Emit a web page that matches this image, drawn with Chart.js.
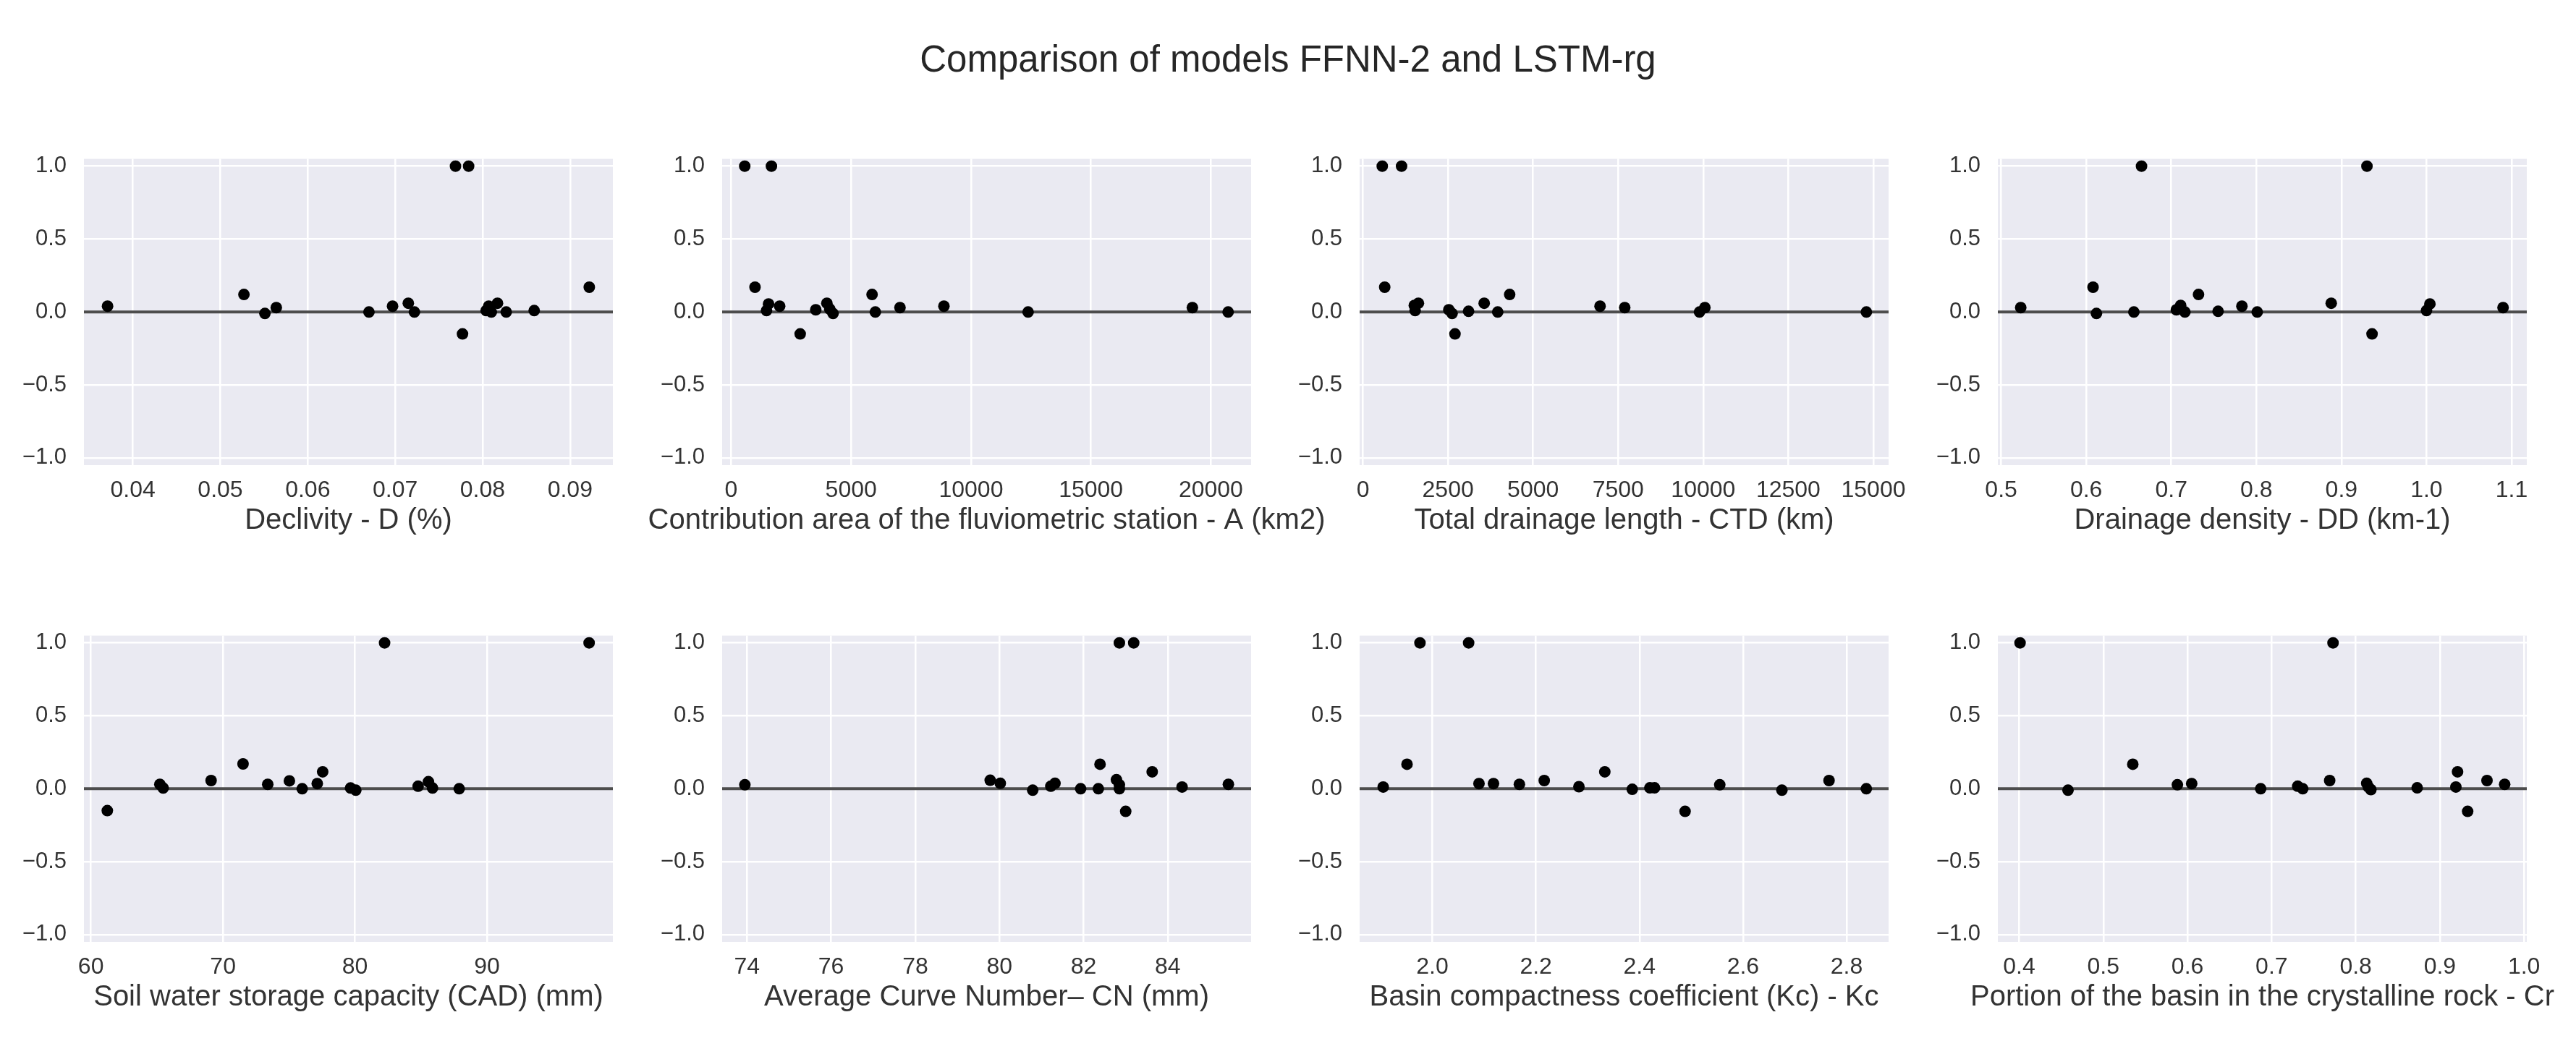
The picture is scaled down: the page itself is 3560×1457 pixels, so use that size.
<!DOCTYPE html>
<html>
<head>
<meta charset="utf-8">
<title>Comparison of models FFNN-2 and LSTM-rg</title>
<script src="https://cdn.jsdelivr.net/npm/chart.js@4.4.1/dist/chart.umd.min.js"></script>
<style>
  html, body { margin: 0; padding: 0; background: #fff; }
  body { width: 3560px; height: 1457px; position: relative; overflow: hidden; font-family: "Liberation Sans", Arial, sans-serif; }
  #title { position: absolute; left: 0; top: 52px; width: 3560px; text-align: center; font-size: 51px; line-height: 60px; color: #262626; }
  canvas { position: absolute; }
</style>
</head>
<body>
<div id="title">Comparison of models FFNN-2 and LSTM-rg</div>
<script>
// values, one pair of arrays per panel
const declivityX = [0.0371, 0.0527, 0.0551, 0.0564, 0.0670, 0.0697, 0.0715, 0.0722, 0.0769, 0.0784, 0.0777, 0.0804, 0.0807, 0.0810, 0.0817, 0.0827, 0.0859, 0.0922];
const declivityY = [0.04, 0.12, -0.01, 0.03, 0.0, 0.04, 0.06, 0.0, 1.0, 1.0, -0.15, 0.01, 0.04, 0.0, 0.06, 0.0, 0.01, 0.17];

const areaX = [565, 1678, 993, 1473, 1558, 2021, 2877, 3527, 3990, 4110, 4247, 5874, 6010, 7038, 8870, 12380, 19230, 20720];
const areaY = [1.0, 1.0, 0.17, 0.01, 0.055, 0.04, -0.15, 0.015, 0.06, 0.02, -0.01, 0.12, 0.0, 0.03, 0.04, 0.0, 0.03, 0.0];

const lengthX = [568, 1135, 640, 1510, 1534, 1630, 2524, 2620, 2705, 3104, 3563, 3961, 4312, 6968, 7693, 9891, 10048, 14795];
const lengthY = [1.0, 1.0, 0.17, 0.045, 0.01, 0.06, 0.015, -0.01, -0.15, 0.005, 0.06, 0.0, 0.12, 0.04, 0.03, 0.0, 0.03, 0.0];

const densityX = [0.523, 0.608, 0.612, 0.656, 0.665, 0.706, 0.711, 0.716, 0.732, 0.755, 0.783, 0.801, 0.888, 0.930, 0.936, 1.000, 1.004, 1.090];
const densityY = [0.03, 0.17, -0.01, 0.0, 1.0, 0.015, 0.045, 0.0, 0.12, 0.005, 0.04, 0.0, 0.06, 1.0, -0.15, 0.01, 0.055, 0.03];

const cadX = [61.24, 65.22, 65.47, 69.1, 71.52, 73.39, 75.03, 76.0, 77.14, 77.55, 79.66, 80.06, 82.24, 84.78, 85.56, 85.87, 87.89, 97.73];
const cadY = [-0.15, 0.03, 0.005, 0.056, 0.17, 0.03, 0.054, 0.0, 0.035, 0.116, 0.005, -0.01, 1.0, 0.017, 0.048, 0.005, 0.0, 1.0];

const cnX = [73.95, 79.78, 80.02, 80.79, 81.22, 81.32, 81.93, 82.35, 82.39, 82.78, 82.85, 82.85, 82.85, 83.19, 83.0, 83.63, 84.34, 85.44];
const cnY = [0.027, 0.058, 0.037, -0.01, 0.017, 0.037, 0.0, 0.0, 0.168, 0.062, 0.027, 0.0, 1.0, 1.0, -0.155, 0.116, 0.012, 0.03];

const kcX = [1.905, 1.951, 1.976, 2.070, 2.090, 2.118, 2.168, 2.216, 2.283, 2.333, 2.386, 2.420, 2.429, 2.488, 2.555, 2.675, 2.766, 2.838];
const kcY = [0.012, 0.168, 1.0, 1.0, 0.035, 0.035, 0.03, 0.056, 0.014, 0.116, -0.004, 0.006, 0.006, -0.155, 0.027, -0.01, 0.056, 0.0];

const crX = [0.401, 0.458, 0.535, 0.588, 0.605, 0.687, 0.731, 0.737, 0.769, 0.773, 0.813, 0.815, 0.818, 0.873, 0.919, 0.921, 0.933, 0.956, 0.977];
const crY = [1.0, -0.01, 0.168, 0.027, 0.035, 0.0, 0.017, 0.0, 0.056, 1.0, 0.037, 0.012, -0.006, 0.006, 0.012, 0.116, -0.155, 0.056, 0.03];

// tick labels
const declivityTicks = ['0.04', '0.05', '0.06', '0.07', '0.08', '0.09'];
const areaTicks = ['0', '5000', '10000', '15000', '20000'];
const lengthTicks = ['0', '2500', '5000', '7500', '10000', '12500', '15000'];
const densityTicks = ['0.5', '0.6', '0.7', '0.8', '0.9', '1.0', '1.1'];
const cadTicks = ['60', '70', '80', '90'];
const cnTicks = ['74', '76', '78', '80', '82', '84'];
const kcTicks = ['2.0', '2.2', '2.4', '2.6', '2.8'];
const crTicks = ['0.4', '0.5', '0.6', '0.7', '0.8', '0.9', '1.0'];
const yTicks = ['1.0', '0.5', '0.0', '\u22120.5', '\u22121.0'];

const panels = [
    { label: 'Declivity - D (%)', x: declivityX, y: declivityY, ticks: declivityTicks, min: 0.0344, max: 0.0949 },
    { label: 'Contribution area of the fluviometric station - A (km2)', x: areaX, y: areaY, ticks: areaTicks, min: -377, max: 21678 },
    { label: 'Total drainage length - CTD (km)', x: lengthX, y: lengthY, ticks: lengthTicks, min: -97, max: 15447 },
    { label: 'Drainage density - DD (km-1)', x: densityX, y: densityY, ticks: densityTicks, min: 0.4961, max: 1.1179 },
    { label: 'Soil water storage capacity (CAD) (mm)', x: cadX, y: cadY, ticks: cadTicks, min: 59.47, max: 99.53 },
    { label: 'Average Curve Number\u2013 CN (mm)', x: cnX, y: cnY, ticks: cnTicks, min: 73.41, max: 85.98 },
    { label: 'Basin compactness coefficient (Kc) - Kc', x: kcX, y: kcY, ticks: kcTicks, min: 1.8595, max: 2.881 },
    { label: 'Portion of the basin in the crystalline rock - Cr', x: crX, y: crY, ticks: crTicks, min: 0.3746, max: 1.0033 }
];

// layout of the figure
const PLOT_LEFTS = [116, 998, 1879, 2761];
const PLOT_TOPS = [207, 866];
const PLOT_W = 731;
const PLOT_H = 436;
const Y_AXIS_W = 130;
const X_AXIS_H = 99;
const PAD_TOP = 30;
const PAD_RIGHT = 130;
const TEXT = '#333333';
const FONT = 'Liberation Sans';

const toNum = s => Number(s.replace('\u2212', '-'));

const plotBackground = {
    id: 'plotBackground',
    beforeDraw(chart) {
        const { ctx, chartArea: a } = chart;
        ctx.save();
        ctx.fillStyle = '#EAEAF2';
        ctx.fillRect(a.left, a.top, a.right - a.left, a.bottom - a.top);
        ctx.restore();
    }
};

const zeroLine = {
    id: 'zeroLine',
    beforeDatasetsDraw(chart) {
        const { ctx, chartArea: a, scales } = chart;
        const y = scales.y.getPixelForValue(0);
        ctx.save();
        ctx.strokeStyle = '#4d4d4d';
        ctx.lineWidth = 4;
        ctx.beginPath();
        ctx.moveTo(a.left, y);
        ctx.lineTo(a.right, y);
        ctx.stroke();
        ctx.restore();
    }
};

// x axis label, drawn without the width limit of the scale title
const axisLabel = {
    id: 'axisLabel',
    afterDraw(chart, args, opts) {
        const { ctx, chartArea: a } = chart;
        ctx.save();
        ctx.font = '40px "' + FONT + '"';
        ctx.fillStyle = TEXT;
        ctx.textAlign = 'center';
        ctx.textBaseline = 'middle';
        ctx.fillText(opts.text, (a.left + a.right) / 2, a.bottom + 77);
        ctx.restore();
    }
};

function createPanel(p, i) {
    const col = i % 4, row = Math.floor(i / 4);
    const w = Y_AXIS_W + PLOT_W + PAD_RIGHT;
    const h = PAD_TOP + PLOT_H + X_AXIS_H;
    const canvas = document.createElement('canvas');
    canvas.width = w;
    canvas.height = h;
    canvas.style.left = (PLOT_LEFTS[col] - Y_AXIS_W) + 'px';
    canvas.style.top = (PLOT_TOPS[row] - PAD_TOP) + 'px';
    canvas.style.width = w + 'px';
    canvas.style.height = h + 'px';
    document.body.appendChild(canvas);

    new Chart(canvas, {
        type: 'scatter',
        data: {
            datasets: [{
                data: p.x.map((v, k) => ({ x: v, y: p.y[k] })),
                backgroundColor: '#000000',
                borderColor: '#000000',
                borderWidth: 0,
                pointRadius: 8,
                pointHoverRadius: 8
            }]
        },
        options: {
            responsive: false,
            animation: false,
            devicePixelRatio: 1,
            layout: { padding: { top: PAD_TOP, right: PAD_RIGHT, left: 0, bottom: 0 } },
            plugins: {
                legend: { display: false },
                tooltip: { enabled: false },
                axisLabel: { text: p.label }
            },
            scales: {
                x: {
                    type: 'linear',
                    min: p.min,
                    max: p.max,
                    afterBuildTicks: s => { s.ticks = p.ticks.map(t => ({ value: toNum(t) })); },
                    afterFit: s => { s.height = X_AXIS_H; },
                    ticks: {
                        callback: (v, idx) => p.ticks[idx],
                        font: { family: FONT, size: 32 },
                        color: TEXT,
                        padding: 16,
                        maxRotation: 0,
                        autoSkip: false
                    },
                    grid: { color: '#ffffff', lineWidth: 2.5, drawTicks: false },
                    border: { display: false }
                },
                y: {
                    type: 'linear',
                    min: -1.05,
                    max: 1.05,
                    afterBuildTicks: s => { s.ticks = yTicks.map(t => ({ value: toNum(t) })); },
                    afterFit: s => { s.width = Y_AXIS_W; },
                    ticks: {
                        callback: (v, idx) => yTicks[idx],
                        font: { family: FONT, size: 31 },
                        color: TEXT,
                        padding: 24,
                        autoSkip: false
                    },
                    grid: { color: '#ffffff', lineWidth: 2.5, drawTicks: false },
                    border: { display: false }
                }
            }
        },
        plugins: [plotBackground, zeroLine, axisLabel]
    });
}

document.addEventListener('DOMContentLoaded', () => {
    panels.forEach(createPanel);
});
</script>
</body>
</html>
